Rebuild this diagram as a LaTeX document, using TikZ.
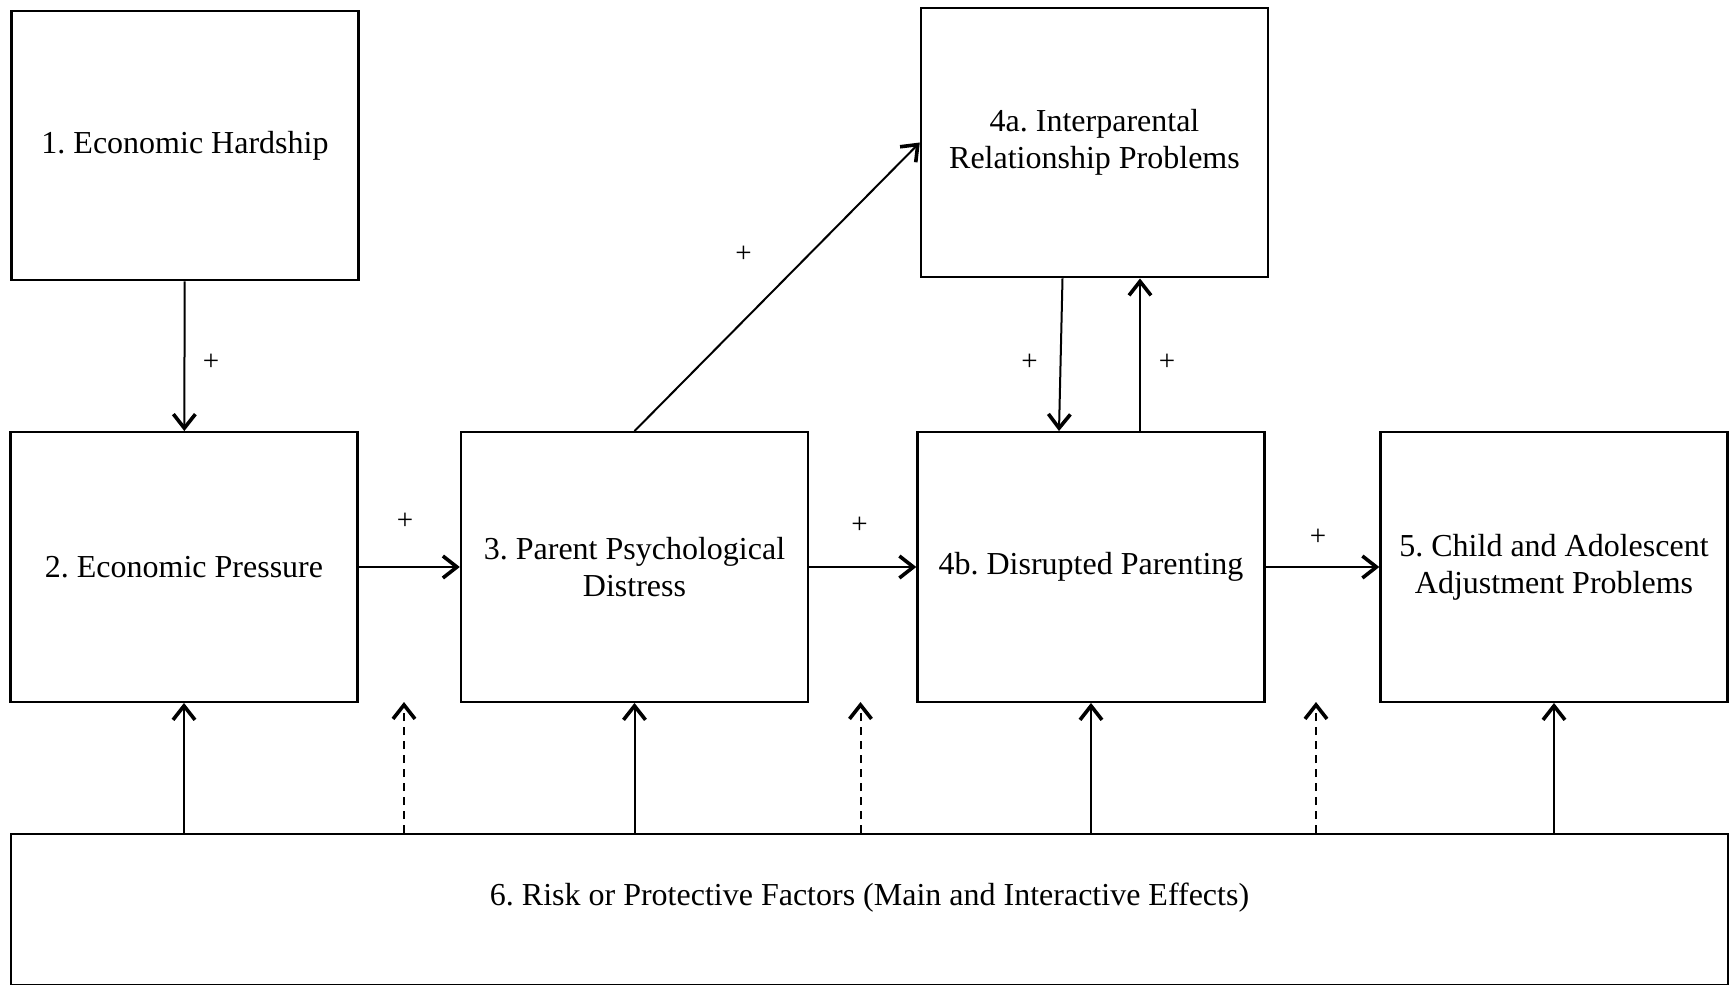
\documentclass[tikz,border=0pt]{standalone}
\usepackage{fontspec}
\setmainfont{Liberation Serif}
\frenchspacing
\usetikzlibrary{arrows.meta}

\tikzset{
  factor/.style={draw, line width=1.2pt, minimum width=173.5pt, minimum height=134.75pt,
    inner sep=0pt, align=center, font=\fontsize{16}{18.4}\selectfont},
  link/.style={line width=1pt, -{Straight Barb[length=7pt,width=11pt,line width=1.8pt]}},
  modlink/.style={link, dash pattern=on 4pt off 3pt},
  sign/.style={inner sep=0pt, font=\fontsize{14.5}{16}\selectfont}
}

\begin{document}
\begin{tikzpicture}[x=0.5pt,y=0.5pt,yscale=-1]
\useasboundingbox (0,0) rectangle (1730,985);

%Boxes
\node[factor] (hard) at (185,145.5) {1. Economic Hardship};
\node[factor] (press) at (184,567) {2. Economic Pressure};
\node[factor] (dist) at (634.5,567) {3. Parent Psychological\\Distress};
\node[factor] (inter) at (1094.5,142.5) {4a. Interparental\\Relationship Problems};
\node[factor] (parent) at (1091,567) {4b. Disrupted Parenting};
\node[factor] (adjust) at (1554,567) {5. Child and Adolescent\\Adjustment Problems};
\node[factor, anchor=north, minimum width=858.5pt, minimum height=0pt, text height=35.5pt, text depth=40pt] (risk) at (869.5,833) {6. Risk or Protective Factors (Main and Interactive Effects)};

%Straight Lines
\draw[link] (hard) -- (press);
\draw[link] (press) -- (dist);
\draw[link] (dist) -- (parent);
\draw[link] (parent) -- (adjust);
\draw[link] (dist.north) -- (inter.west);
\draw[link] ([xshift=-16pt]inter.south) -- ([xshift=-16pt]parent.north);
\draw[link] ([xshift=24.5pt]parent.north) -- ([xshift=24.5pt]parent.north |- inter.south);

%Main effects
\foreach \f in {press,dist,parent,adjust}
  \draw[link] (\f |- risk.north) -- (\f.south);

%Interactive effects
\coordinate (mod1) at (404,702);
\coordinate (mod2) at (860.5,702);
\coordinate (mod3) at (1316,702);
\foreach \m in {mod1,mod2,mod3}
  \draw[modlink] (\m |- risk.north) -- (\m);

% Text Node
\node[sign] (plus1) at (211,362) {+};
\node[sign] (plus2) at (405,521) {+};
\node[sign] (plus3) at (859.5,525) {+};
\node[sign] (plus4) at (1318,537) {+};
\node[sign] (plus5) at (743.5,254) {+};
\node[sign] (plus6) at (1029.5,362) {+};
\node[sign] (plus7) at (1167,362) {+};

\end{tikzpicture}
\end{document}
